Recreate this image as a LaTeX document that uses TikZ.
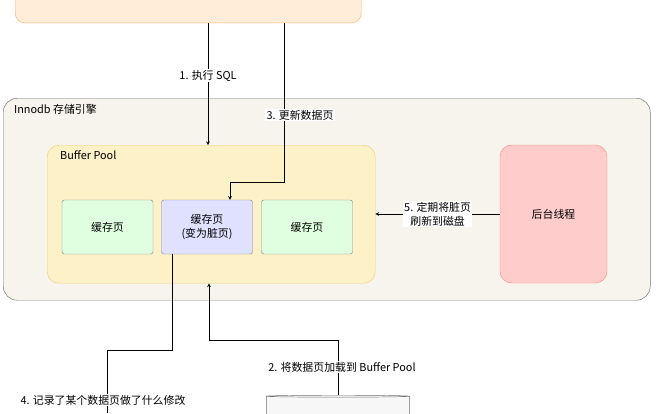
\documentclass[tikz,border=0pt]{standalone}
\usepackage{fontspec}
\setmainfont{Noto Sans CJK SC}
\usetikzlibrary{positioning,shapes.geometric}

\definecolor{poolfill}{HTML}{FDF1C8}
\definecolor{poolline}{HTML}{F2CF7A}
\definecolor{innofill}{HTML}{F7F4EE}

\begin{document}
\begin{tikzpicture}[x=0.03cm, y=-0.03cm, >=stealth,
  every node/.style={font=\fontsize{9.3}{12}\selectfont},
  box/.style={draw, rounded corners=2pt, align=center, inner sep=0pt},
  pagebox/.style={box, draw=black!45, minimum width=2.73cm, minimum height=1.62cm},
  lbl/.style={fill=white, inner sep=1pt, align=center}]

  \useasboundingbox (0,0) rectangle (661,413);

  % Containers
  \node (client) [box, draw=orange!60, fill=orange!15, rounded corners=8pt, minimum width=10.38cm, minimum height=1.5cm, anchor=south west] at (15,23) {};
  \node (innodb) [box, draw=black!55, fill=innofill, rounded corners=12pt, minimum width=19.41cm, minimum height=6.06cm, anchor=north west] at (3,98) {};
  \node [anchor=north west] at (10,100) {Innodb 存储引擎};
  \node (pool) [box, draw=poolline, fill=poolfill, rounded corners=10pt, minimum width=9.84cm, minimum height=4.14cm, anchor=north west] at (47,145) {};
  \node [anchor=north west] at (56,147) {Buffer Pool};

  % Pages
  \node (page1) [pagebox, fill=green!12] at (107.5,227) {缓存页};
  \node (page2) [pagebox, fill=blue!12] at (207,227) {缓存页\\(变为脏页)};
  \node (page3) [pagebox, fill=green!12] at (307,227) {缓存页};
  \node (worker) [box, draw=red!45, fill=red!20, rounded corners=10pt, minimum width=3.21cm, minimum height=4.14cm] at (553.5,214) {后台线程};
  \node (disk) [cylinder, shape border rotate=90, draw=black!55, fill=black!3, aspect=0.25, minimum width=4.3cm, minimum height=2cm, anchor=north] at (338,395) {};

  % Arrows
  \draw[->] (208,23) -- node[lbl, pos=0.43] {1. 执行 SQL} (pool.north -| 208,0);
  \draw[->] (284,23) -- (284,182) -- (230,182) -- (page2.north -| 230,0);
  \node [lbl] at (300,115) {3. 更新数据页};
  \draw[->] (worker.west) -- node[lbl] {5. 定期将脏页\\刷新到磁盘} (pool.east |- worker.west);
  \draw[->] (disk.north) -- (338,340) -- (209,340) -- (pool.south -| 209,0);
  \node [lbl] at (342,367) {2. 将数据页加载到 Buffer Pool};
  \draw (page2.south -| 172,0) -- (172,350) -- (107,350) -- (107,413);
  \node [lbl] at (103,400) {4. 记录了某个数据页做了什么修改};
\end{tikzpicture}
\end{document}
